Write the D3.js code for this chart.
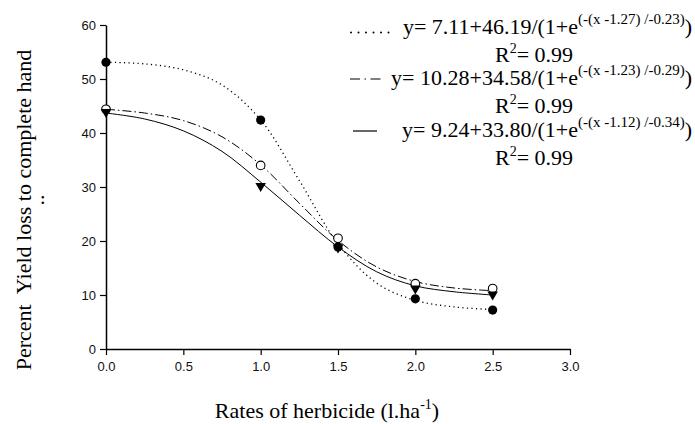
<!DOCTYPE html>
<html>
<head>
<meta charset="utf-8">
<script src="https://cdn.jsdelivr.net/npm/d3@7"></script>
<style>
  body { margin: 0; background: #fff; }
  svg { display: block; }
</style>
</head>
<body>
<div id="chart"></div>
<script>
// observed points
var rates = [0, 1, 1.5, 2, 2.5];
var lossDotted = [53.1, 42.4, 18.9, 9.3, 7.2];     // filled circles
var lossDashDot = [44.4, 34.0, 20.5, 12.1, 11.2];  // open circles
var lossSolid = [43.9, 30.2, 18.8, 11.2, 10.1];    // triangles

// fitted curves
var fitRates = [0, 0.25, 0.5, 0.75, 1, 1.25, 1.5, 1.75, 2, 2.25, 2.5];
var fitDotted = [53.1, 52.8, 51.7, 48.9, 42.4, 31.2, 19.5, 12.2, 9.0, 7.8, 7.3];
var fitDashDot = [44.4, 43.7, 42.3, 39.3, 34.1, 27.0, 20.1, 15.2, 12.5, 11.3, 10.8];
var fitSolid = [43.7, 42.6, 40.4, 36.6, 30.9, 24.8, 18.9, 14.3, 11.7, 10.6, 10.0];

var xTicks = [0, 0.5, 1, 1.5, 2, 2.5, 3];
var yTicks = [0, 10, 20, 30, 40, 50, 60];

var equations = [
  {main: "y= 7.11+46.19/(1+e", sup: "(-(x -1.27) /-0.23)"},
  {main: "y= 10.28+34.58/(1+e", sup: "(-(x -1.23) /-0.29)"},
  {main: "y= 9.24+33.80/(1+e", sup: "(-(x -1.12) /-0.34)"}
];
var r2Text = "= 0.99";

var svgWidth = 695;
var svgHeight = 424;
var margin = {top: 25, right: 125, bottom: 75, left: 106};
var width = svgWidth - margin.left - margin.right;
var height = svgHeight - margin.top - margin.bottom;

var svg = d3.select("#chart")
  .append("svg")
  .attr("width", svgWidth)
  .attr("height", svgHeight);

var chartGroup = svg.append("g")
  .attr("transform", `translate(${margin.left}, ${margin.top})`);

var xScale = d3.scaleLinear().domain([0, 3]).range([0, width]);
var yScale = d3.scaleLinear().domain([0, 60]).range([height, 0]);

var bottomAxis = d3.axisBottom(xScale)
  .tickValues(xTicks)
  .tickFormat(d3.format(".1f"))
  .tickSize(6)
  .tickSizeOuter(0)
  .tickPadding(7);
var leftAxis = d3.axisLeft(yScale)
  .tickValues(yTicks)
  .tickSize(6)
  .tickSizeOuter(0)
  .tickPadding(4);

var xAxis = chartGroup.append("g")
  .attr("transform", `translate(0, ${height})`)
  .call(bottomAxis);
var yAxis = chartGroup.append("g").call(leftAxis);

[xAxis, yAxis].forEach(function(ax) {
  ax.select(".domain").attr("stroke", "#000").attr("stroke-width", 1.5);
  ax.selectAll(".tick line").attr("stroke", "#000").attr("stroke-width", 1.2);
  ax.selectAll(".tick text")
    .attr("fill", "#111")
    .style("font-family", "'Liberation Sans', Arial, sans-serif")
    .style("font-size", "13px");
});

// fitted lines
var line = d3.line()
  .x(d => xScale(d[0]))
  .y(d => yScale(d[1]))
  .curve(d3.curveCatmullRom.alpha(0.5));

var fits = [
  {vals: fitDotted, dash: "1.2,3.3", w: 1.3},
  {vals: fitDashDot, dash: "9,3,1.5,3", w: 1},
  {vals: fitSolid, dash: null, w: 1}
];
fits.forEach(function(f) {
  chartGroup.append("path")
    .datum(fitRates.map((x, i) => [x, f.vals[i]]))
    .attr("d", line)
    .attr("fill", "none")
    .attr("stroke", "#000")
    .attr("stroke-width", f.w)
    .attr("stroke-dasharray", f.dash);
});

// markers
chartGroup.selectAll(".open")
  .data(rates.map((x, i) => [x, lossDashDot[i]]))
  .enter()
  .append("circle")
  .attr("cx", d => xScale(d[0]))
  .attr("cy", d => yScale(d[1]))
  .attr("r", 4.3)
  .attr("fill", "#fff")
  .attr("stroke", "#000")
  .attr("stroke-width", 1.1);

chartGroup.selectAll(".filled")
  .data(rates.map((x, i) => [x, lossDotted[i]]))
  .enter()
  .append("circle")
  .attr("cx", d => xScale(d[0]))
  .attr("cy", d => yScale(d[1]))
  .attr("r", 4.6)
  .attr("fill", "#000");

chartGroup.selectAll(".tri")
  .data(rates.map((x, i) => [x, lossSolid[i]]))
  .enter()
  .append("path")
  .attr("d", d3.symbol().type(d3.symbolTriangle).size(48))
  .attr("transform", d => `translate(${xScale(d[0])}, ${yScale(d[1])}) rotate(180)`)
  .attr("fill", "#000");

// legend / equations
var serif = "'Liberation Serif', 'Times New Roman', serif";
var eqBase = [34, 85, 137];
var r2Base = [62, 113, 165];

equations.forEach(function(eq, i) {
  var t = svg.append("text")
    .attr("x", 692)
    .attr("y", eqBase[i])
    .attr("text-anchor", "end")
    .style("font-family", serif)
    .style("font-size", "22px")
    .attr("fill", "#000");
  t.append("tspan").text(eq.main);
  t.append("tspan").attr("dy", -10).style("font-size", "15px").text(eq.sup);
  t.append("tspan").attr("dy", 10).text(")");

  var r = svg.append("text")
    .attr("x", 534)
    .attr("y", r2Base[i])
    .attr("text-anchor", "middle")
    .style("font-family", serif)
    .style("font-size", "22px")
    .attr("fill", "#000");
  r.append("tspan").text("R");
  r.append("tspan").attr("dy", -9).style("font-size", "14px").text("2");
  r.append("tspan").attr("dy", 9).text(r2Text);
});

var legendLines = [
  {x1: 351, x2: 392, y: eqBase[0] - 1.5, dash: "0,7.5", w: 2, cap: "round"},
  {x1: 350, x2: 382, y: eqBase[1] - 6, dash: "10,4.5,1.5,4.5,10", w: 1.2, cap: "butt"},
  {x1: 353, x2: 377, y: eqBase[2] - 6, dash: null, w: 1.2, cap: "butt"}
];
legendLines.forEach(function(l) {
  svg.append("line")
    .attr("x1", l.x1).attr("x2", l.x2)
    .attr("y1", l.y).attr("y2", l.y)
    .attr("stroke", "#000")
    .attr("stroke-width", l.w)
    .attr("stroke-linecap", l.cap)
    .attr("stroke-dasharray", l.dash);
});

// axis titles
var xt = svg.append("text")
  .attr("x", 327)
  .attr("y", 418)
  .attr("text-anchor", "middle")
  .style("font-family", serif)
  .style("font-size", "22px");
xt.append("tspan").text("Rates of herbicide (l.ha");
xt.append("tspan").attr("dy", -9).style("font-size", "14px").text("-1");
xt.append("tspan").attr("dy", 9).text(")");

svg.append("text")
  .attr("transform", "translate(31, 210) rotate(-90)")
  .attr("text-anchor", "middle")
  .style("font-family", serif)
  .style("font-size", "22px")
  .style("white-space", "pre")
  .text("Percent  Yield loss to complete hand");

svg.append("text")
  .attr("transform", "translate(44, 200) rotate(-90)")
  .attr("text-anchor", "middle")
  .style("font-family", serif)
  .style("font-size", "22px")
  .text("..");
</script>
</body>
</html>
